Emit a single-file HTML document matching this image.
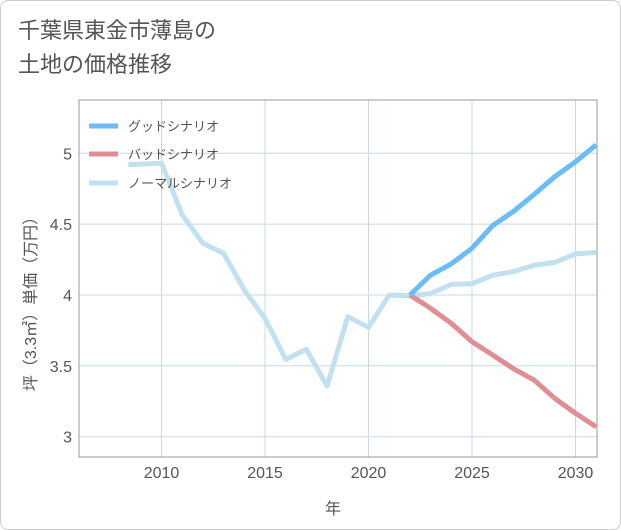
<!DOCTYPE html>
<html><head><meta charset="utf-8"><style>
body{margin:0;background:#fff;font-family:"Liberation Sans","Noto Sans CJK JP",sans-serif;}
#card{position:absolute;left:0;top:0;width:619px;height:528px;border:1px solid #ccc;border-radius:8px;}
#title{position:absolute;left:18px;top:14px;font-size:22px;line-height:34px;color:#555;}
</style></head><body>
<div id="card"></div>
<div id="title">千葉県東金市薄島の<br>土地の価格推移</div>
<svg id="chart" width="621" height="530" style="position:absolute;left:0;top:0"></svg>
<script>
const xTicks=[2010,2015,2020,2025,2030];
const yTicks=[3,3.5,4,4.5,5];
const normalYears=[2008.4,2010,2011,2012,2013,2014,2015,2016,2017,2018,2019,2020,2021,2022,2023,2024,2025,2026,2027,2028,2029,2030,2031];
const normalVals=[4.92,4.93,4.565,4.365,4.294,4.035,3.835,3.546,3.617,3.358,3.847,3.772,4.0,3.995,4.01,4.075,4.08,4.14,4.165,4.21,4.23,4.29,4.30];
const scenYears=[2022,2023,2024,2025,2026,2027,2028,2029,2030,2031];
const goodVals=[4.0,4.14,4.22,4.33,4.49,4.59,4.71,4.835,4.94,5.06];
const badVals=[4.0,3.906,3.80,3.67,3.576,3.48,3.40,3.27,3.165,3.07];
const NS="http://www.w3.org/2000/svg";
const svg=document.getElementById('chart');
const L=79,R=597,T=100,B=457;
const xs=y=>161.5+(y-2010)*20.7;
const ys=v=>295-(v-4)*141.7;
function mk(tag,attrs,parent){const e=document.createElementNS(NS,tag);for(const k in attrs)e.setAttribute(k,attrs[k]);(parent||svg).appendChild(e);return e;}
const clip=mk('clipPath',{id:'pc'});mk('rect',{x:L,y:T,width:R-L,height:B-T},clip);
xTicks.forEach(t=>{
 const g=mk('line',{x1:xs(t),x2:xs(t),y1:T,y2:B,stroke:'#c8d8e8','stroke-width':1});
 
 
 const tx=mk('text',{x:xs(t),y:478,'text-anchor':'middle','font-size':16,fill:'#555'});tx.textContent=t;
 
 
});
yTicks.forEach(t=>{
 const g=mk('line',{x1:L,x2:R,y1:ys(t),y2:ys(t),stroke:'#c8d8e8','stroke-width':1});
 
 
 const tx=mk('text',{x:72,y:ys(t)+6,'text-anchor':'end','font-size':16,fill:'#555'});tx.textContent=t;
 
 
});
const fr=mk('rect',{x:L,y:T,width:R-L,height:B-T,fill:'none',stroke:'#999','stroke-width':1});


function series(yrs,vals,color,name){
 const p=mk('polyline',{points:yrs.map((y,i)=>xs(y)+','+ys(vals[i])).join(' '),fill:'none',stroke:color,'stroke-width':5,'stroke-linejoin':'round','clip-path':'url(#pc)'});
 
 
}
series(normalYears,normalVals,'#c2e1ef','normal-scenario-line');
series(scenYears,badVals,'#e08d93','bad-scenario-line');
series(scenYears,goodVals,'#6bbdf5','good-scenario-line');
series(scenYears.slice(0,1),normalVals.slice(13,14),'#c2e1ef','normal-join');
const leg=[['グッドシナリオ','#6bbdf5',126],['バッドシナリオ','#e08d93',154],['ノーマルシナリオ','#c2e1ef',183]];
leg.forEach(([t,c,y])=>{
 const g=mk('g',{});
 
 
 mk('line',{x1:89,x2:118,y1:y,y2:y,stroke:c,'stroke-width':5},g);
 const tx=mk('text',{x:128,y:y+5,'font-size':13,fill:'#555'},g);tx.textContent=t;
});
const xt=mk('text',{x:333,y:514,'text-anchor':'middle','font-size':16,fill:'#555'});xt.textContent='年';


const yt=mk('text',{x:0,y:0,'text-anchor':'middle','font-size':16,fill:'#555',transform:'translate(36,300) rotate(-90)'});yt.textContent='坪（3.3㎡）単価（万円）';


</script>
</body></html>
